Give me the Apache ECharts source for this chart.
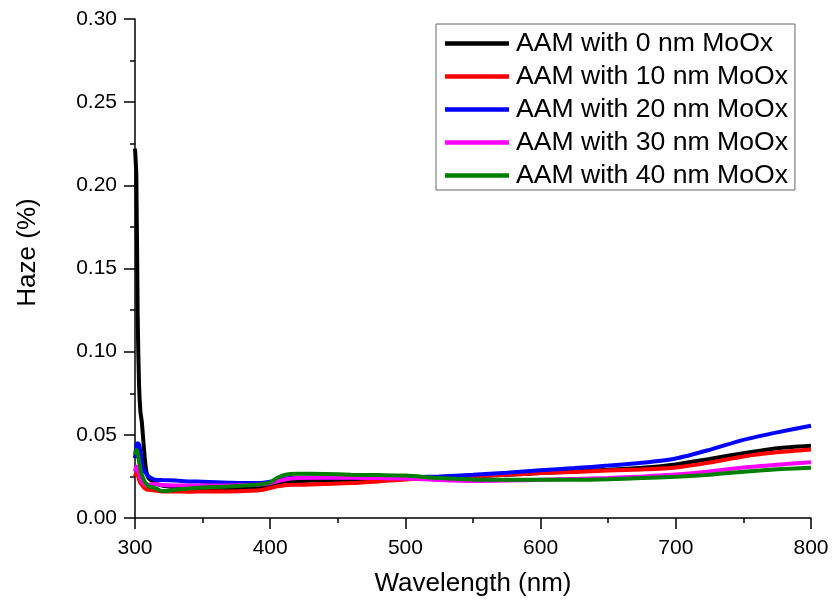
<!DOCTYPE html>
<html><head><meta charset="utf-8">
<script src="https://cdn.jsdelivr.net/npm/echarts@6/dist/echarts.min.js"></script>
<style>html,body{margin:0;padding:0;background:#fff}#c{width:834px;height:607px}</style>
</head><body><div id="c"></div>
<script>
const wavelength = [300,301,302,303,304,305,306,307,308,309,310,315,320,330,340,350,360,370,380,390,395,400,405,410,415,420,440,460,480,500,525,550,575,600,625,650,675,700,725,750,775,800];
const seriesNames = ['AAM with 0 nm MoOx','AAM with 10 nm MoOx','AAM with 20 nm MoOx','AAM with 30 nm MoOx','AAM with 40 nm MoOx'];
const haze0 = [0.222,0.205,0.12,0.08,0.064,0.058,0.048,0.038,0.03,0.026,0.024,0.021,0.0195,0.0185,0.018,0.0178,0.0175,0.0175,0.0178,0.018,0.019,0.0198,0.021,0.0218,0.022,0.0222,0.0225,0.0228,0.0232,0.024,0.0243,0.025,0.026,0.027,0.028,0.029,0.0302,0.0322,0.0355,0.039,0.042,0.0435];
const haze10 = [0.025,0.027,0.026,0.023,0.021,0.02,0.019,0.018,0.0175,0.017,0.017,0.0165,0.016,0.016,0.0158,0.016,0.016,0.016,0.0162,0.0166,0.017,0.018,0.019,0.0196,0.02,0.02,0.0205,0.021,0.022,0.0232,0.024,0.025,0.026,0.027,0.0277,0.0285,0.0292,0.0304,0.0333,0.037,0.0395,0.0412];
const haze20 = [0.036,0.043,0.045,0.044,0.04,0.034,0.03,0.028,0.027,0.026,0.025,0.023,0.0228,0.0225,0.022,0.0218,0.0215,0.0212,0.021,0.021,0.0212,0.0218,0.0228,0.0235,0.024,0.0242,0.0244,0.0245,0.0245,0.0245,0.025,0.026,0.0272,0.0287,0.030,0.0315,0.0332,0.0358,0.041,0.047,0.0515,0.0555];
const haze30 = [0.028,0.031,0.03,0.027,0.024,0.022,0.021,0.0205,0.02,0.02,0.02,0.0205,0.0198,0.0195,0.0195,0.0195,0.0195,0.0196,0.0198,0.02,0.0203,0.021,0.022,0.023,0.0238,0.024,0.0242,0.0242,0.024,0.0238,0.0228,0.0222,0.0225,0.023,0.0235,0.024,0.025,0.0262,0.028,0.0303,0.032,0.0335];
const haze40 = [0.038,0.041,0.039,0.034,0.029,0.026,0.024,0.022,0.021,0.02,0.019,0.018,0.0162,0.017,0.0178,0.0183,0.0186,0.019,0.0195,0.02,0.0205,0.0215,0.024,0.0258,0.0265,0.0266,0.0265,0.026,0.0258,0.0255,0.024,0.0232,0.023,0.023,0.023,0.0233,0.024,0.0248,0.026,0.0278,0.0293,0.0302];
const colors = ['#000000','#ff0000','#0000ff','#ff00ff','#008000'];
const allHaze = [haze0,haze10,haze20,haze30,haze40];

const font = 'Liberation Sans, Arial, sans-serif';
const chart = echarts.init(document.getElementById('c'));
chart.setOption({
  animation:false,
  backgroundColor:'#fff',
  grid:{left:135,right:23,top:19,bottom:89},
  legend:{
    orient:'vertical', left:436, top:24,
    padding:[6,7,1,9], itemGap:6,
    itemWidth:64, itemHeight:26,
    borderColor:'#666', borderWidth:1,
    textStyle:{fontFamily:font,fontSize:26.6,color:'#000',padding:[0,0,0,2]},
    data:seriesNames.map(n=>({name:n,icon:'path://M0,0 L64,0 L64,4.5 L0,4.5 Z'}))
  },
  xAxis:{
    type:'value', min:300, max:800, interval:100,
    name:'Wavelength (nm)', nameLocation:'middle', nameGap:53,
    nameTextStyle:{fontFamily:font,fontSize:26,color:'#000'},
    axisLine:{lineStyle:{color:'#000',width:1.5}},
    axisTick:{length:11,lineStyle:{color:'#000',width:1.5}},
    minorTick:{show:true,splitNumber:2,length:5,lineStyle:{color:'#000',width:1.5}},
    axisLabel:{fontFamily:font,fontSize:21,color:'#000',margin:20},
    splitLine:{show:false}
  },
  yAxis:{
    type:'value', min:0, max:0.3, interval:0.05,
    name:'Haze (%)', nameLocation:'middle', nameGap:94, nameRotate:90,
    nameTextStyle:{fontFamily:font,fontSize:26,color:'#000',padding:[0,0,0,32]},
    axisLine:{show:true,lineStyle:{color:'#000',width:1.5}},
    axisTick:{show:true,length:11,lineStyle:{color:'#000',width:1.5}},
    minorTick:{show:true,splitNumber:2,length:5,lineStyle:{color:'#000',width:1.5}},
    axisLabel:{fontFamily:font,fontSize:21,color:'#000',margin:18,formatter:v=>v.toFixed(2)},
    splitLine:{show:false}
  },
  series:allHaze.map((arr,i)=>({
    name:seriesNames[i], type:'line', showSymbol:false, symbol:'none',
    smooth:0.25,
    itemStyle:{color:colors[i]},
    lineStyle:{color:colors[i],width:4},
    data:wavelength.map((w,j)=>[w,arr[j]])
  }))
});
</script></body></html>
